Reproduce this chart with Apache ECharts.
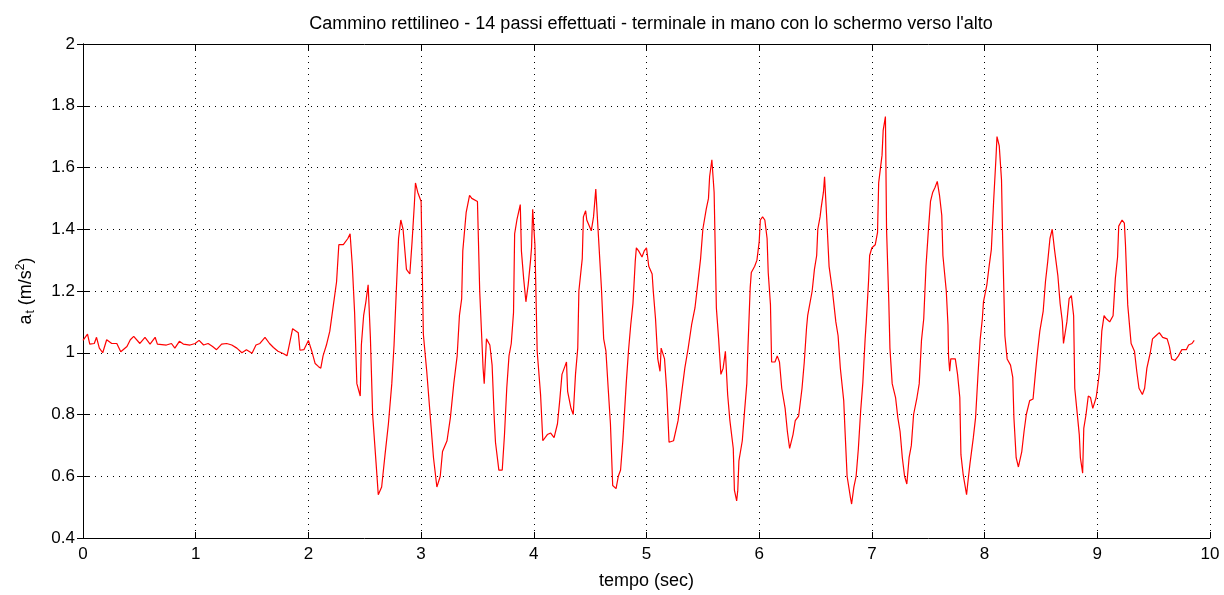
<!DOCTYPE html>
<html>
<head>
<meta charset="utf-8">
<script src="https://cdn.jsdelivr.net/npm/echarts@6/dist/echarts.min.js"></script>
<style>
  html, body { margin: 0; padding: 0; background: #fff; }
  #chart { width: 1224px; height: 595px; }
</style>
</head>
<body>
<div id="chart"></div>
<script>
// tempo (sec) of each sample
const tempo = [
  0.00, 0.04, 0.06, 0.10, 0.12, 0.145, 0.175, 0.21, 0.255, 0.30, 0.335, 0.39, 0.42, 0.45, 0.505, 0.55,
  0.595, 0.64, 0.66, 0.74, 0.785, 0.815, 0.855, 0.89, 0.95, 0.995, 1.03, 1.07, 1.11, 1.15, 1.185, 1.23,
  1.275, 1.32, 1.365, 1.41, 1.45, 1.50, 1.535, 1.57, 1.615, 1.655, 1.69, 1.73, 1.78, 1.81, 1.83, 1.86,
  1.91, 1.925, 1.96, 2.00, 2.03, 2.06, 2.09, 2.11, 2.13, 2.16, 2.19, 2.22, 2.25, 2.27, 2.31, 2.35,
  2.37, 2.39, 2.41, 2.43, 2.46, 2.47, 2.49, 2.51, 2.53, 2.55, 2.57, 2.60, 2.62, 2.65, 2.68, 2.71,
  2.74, 2.76, 2.78, 2.80, 2.82, 2.84, 2.87, 2.90, 2.92, 2.94, 2.95, 2.97, 3.00, 3.02, 3.05, 3.08,
  3.11, 3.14, 3.17, 3.19, 3.23, 3.26, 3.29, 3.32, 3.34, 3.36, 3.37, 3.40, 3.43, 3.45, 3.50, 3.52,
  3.55, 3.56, 3.58, 3.61, 3.63, 3.65, 3.66, 3.69, 3.72, 3.74, 3.76, 3.78, 3.80, 3.82, 3.83, 3.85,
  3.88, 3.89, 3.91, 3.93, 3.95, 3.97, 3.98, 3.99, 4.01, 4.03, 4.06, 4.08, 4.12, 4.15, 4.18, 4.21,
  4.23, 4.25, 4.28, 4.29, 4.30, 4.33, 4.35, 4.37, 4.39, 4.40, 4.43, 4.44, 4.46, 4.47, 4.51, 4.53,
  4.55, 4.57, 4.60, 4.62, 4.64, 4.66, 4.68, 4.70, 4.73, 4.75, 4.77, 4.79, 4.82, 4.84, 4.86, 4.88,
  4.90, 4.91, 4.93, 4.96, 4.98, 5.00, 5.02, 5.05, 5.06, 5.08, 5.10, 5.12, 5.13, 5.16, 5.18, 5.20,
  5.24, 5.28, 5.31, 5.34, 5.37, 5.40, 5.43, 5.46, 5.48, 5.50, 5.53, 5.55, 5.56, 5.58, 5.60, 5.62,
  5.64, 5.66, 5.68, 5.70, 5.72, 5.74, 5.77, 5.78, 5.80, 5.81, 5.82, 5.85, 5.87, 5.89, 5.90, 5.92,
  5.93, 5.96, 5.98, 6.00, 6.01, 6.03, 6.05, 6.07, 6.08, 6.10, 6.11, 6.14, 6.16, 6.18, 6.20, 6.23,
  6.25, 6.27, 6.30, 6.32, 6.35, 6.38, 6.40, 6.42, 6.43, 6.47, 6.49, 6.51, 6.52, 6.54, 6.55, 6.57,
  6.58, 6.60, 6.62, 6.65, 6.68, 6.70, 6.72, 6.75, 6.76, 6.78, 6.81, 6.82, 6.84, 6.86, 6.88, 6.90,
  6.92, 6.94, 6.95, 6.97, 6.98, 7.00, 7.03, 7.05, 7.06, 7.09, 7.10, 7.12, 7.13, 7.15, 7.16, 7.18,
  7.21, 7.23, 7.25, 7.27, 7.29, 7.31, 7.33, 7.35, 7.37, 7.40, 7.42, 7.44, 7.46, 7.48, 7.50, 7.52,
  7.54, 7.56, 7.58, 7.60, 7.62, 7.63, 7.66, 7.675, 7.68, 7.69, 7.70, 7.74, 7.76, 7.78, 7.79, 7.81,
  7.84, 7.85, 7.87, 7.90, 7.92, 7.94, 7.96, 7.98, 7.99, 8.02, 8.04, 8.06, 8.08, 8.10, 8.11, 8.13,
  8.15, 8.16, 8.18, 8.20, 8.23, 8.25, 8.26, 8.28, 8.30, 8.33, 8.35, 8.37, 8.40, 8.43, 8.45, 8.47,
  8.49, 8.52, 8.54, 8.56, 8.58, 8.60, 8.62, 8.65, 8.67, 8.69, 8.70, 8.73, 8.75, 8.77, 8.79, 8.80,
  8.82, 8.84, 8.85, 8.87, 8.88, 8.90, 8.92, 8.94, 8.96, 8.99, 9.01, 9.02, 9.04, 9.06, 9.08, 9.11,
  9.14, 9.16, 9.18, 9.19, 9.22, 9.24, 9.25, 9.27, 9.30, 9.33, 9.35, 9.37, 9.40, 9.42, 9.44, 9.47,
  9.49, 9.52, 9.55, 9.58, 9.62, 9.64, 9.66, 9.69, 9.72, 9.75, 9.79, 9.81, 9.84, 9.86
];

// a_t (m/s^2) at each sample
const accel = [
  1.04, 1.06, 1.028, 1.03, 1.05, 1.015, 1.00, 1.042, 1.03, 1.03, 1.003, 1.02, 1.042, 1.053, 1.03, 1.05,
  1.028, 1.05, 1.028, 1.025, 1.03, 1.015, 1.037, 1.028, 1.025, 1.03, 1.04, 1.025, 1.03, 1.02, 1.01, 1.028,
  1.03, 1.025, 1.015, 1.00, 1.01, 0.998, 1.025, 1.03, 1.05, 1.03, 1.017, 1.005, 0.997, 0.99, 1.025, 1.078,
  1.065, 1.008, 1.01, 1.04, 1.005, 0.965, 0.955, 0.95, 0.99, 1.025, 1.07, 1.15, 1.23, 1.35, 1.35, 1.37,
  1.385, 1.28, 1.13, 0.90, 0.86, 1.025, 1.12, 1.165, 1.22, 1.05, 0.80, 0.645, 0.54, 0.565, 0.67, 0.77,
  0.90, 1.025, 1.20, 1.37, 1.43, 1.40, 1.27, 1.255, 1.36, 1.48, 1.55, 1.52, 1.49, 1.06, 0.94, 0.80,
  0.66, 0.565, 0.60, 0.68, 0.715, 0.79, 0.90, 0.99, 1.12, 1.175, 1.33, 1.455, 1.51, 1.50, 1.49, 1.20,
  0.95, 0.90, 1.045, 1.025, 0.96, 0.78, 0.71, 0.62, 0.62, 0.735, 0.885, 0.99, 1.03, 1.13, 1.385, 1.43,
  1.48, 1.33, 1.24, 1.165, 1.22, 1.295, 1.34, 1.465, 1.35, 1.005, 0.865, 0.715, 0.735, 0.74, 0.725, 0.77,
  0.845, 0.93, 0.96, 0.97, 0.875, 0.82, 0.80, 0.93, 1.015, 1.20, 1.305, 1.44, 1.46, 1.43, 1.395, 1.44,
  1.53, 1.40, 1.21, 1.045, 1.005, 0.885, 0.77, 0.57, 0.56, 0.60, 0.62, 0.715, 0.90, 1.005, 1.09, 1.16,
  1.295, 1.34, 1.33, 1.31, 1.33, 1.34, 1.28, 1.255, 1.20, 1.11, 0.98, 0.94, 1.015, 0.98, 0.875, 0.71,
  0.715, 0.78, 0.865, 0.95, 1.015, 1.09, 1.145, 1.24, 1.305, 1.40, 1.465, 1.50, 1.57, 1.625, 1.52, 1.145,
  1.045, 0.93, 0.95, 1.005, 0.865, 0.78, 0.69, 0.555, 0.52, 0.555, 0.65, 0.715, 0.81, 0.90, 1.015, 1.21,
  1.26, 1.28, 1.30, 1.36, 1.43, 1.44, 1.43, 1.37, 1.26, 1.155, 0.97, 0.97, 0.99, 0.97, 0.885, 0.82,
  0.745, 0.69, 0.735, 0.78, 0.795, 0.885, 0.97, 1.08, 1.12, 1.20, 1.27, 1.315, 1.40, 1.44, 1.47, 1.52,
  1.57, 1.43, 1.28, 1.20, 1.10, 1.055, 0.95, 0.845, 0.76, 0.60, 0.53, 0.51, 0.565, 0.60, 0.69, 0.81,
  0.905, 1.045, 1.10, 1.23, 1.315, 1.34, 1.35, 1.39, 1.55, 1.64, 1.72, 1.765, 1.40, 1.165, 1.015, 0.90,
  0.855, 0.79, 0.745, 0.66, 0.60, 0.575, 0.66, 0.70, 0.80, 0.855, 0.90, 1.04, 1.11, 1.28, 1.39, 1.49,
  1.52, 1.535, 1.555, 1.51, 1.445, 1.315, 1.20, 1.09, 0.99, 0.94, 0.98, 0.98, 0.93, 0.855, 0.67, 0.605,
  0.54, 0.575, 0.64, 0.725, 0.79, 0.92, 1.04, 1.11, 1.165, 1.22, 1.28, 1.335, 1.49, 1.625, 1.70, 1.67,
  1.56, 1.37, 1.055, 0.98, 0.96, 0.92, 0.79, 0.66, 0.63, 0.68, 0.745, 0.80, 0.845, 0.85, 0.93, 1.005,
  1.07, 1.135, 1.23, 1.295, 1.37, 1.40, 1.335, 1.25, 1.16, 1.10, 1.03, 1.10, 1.175, 1.185, 1.12, 0.885,
  0.81, 0.735, 0.66, 0.61, 0.755, 0.80, 0.86, 0.855, 0.82, 0.855, 0.91, 0.94, 1.07, 1.12, 1.11, 1.10,
  1.12, 1.24, 1.31, 1.41, 1.43, 1.42, 1.35, 1.155, 1.03, 1.005, 0.94, 0.885, 0.865, 0.885, 0.95, 1.00,
  1.045, 1.055, 1.065, 1.05, 1.045, 1.02, 0.98, 0.975, 0.99, 1.01, 1.01, 1.025, 1.03, 1.04
];

const xTicks = [0, 1, 2, 3, 4, 5, 6, 7, 8, 9, 10];
const yTicks = [0.4, 0.6, 0.8, 1, 1.2, 1.4, 1.6, 1.8, 2];

const FONT = '"Liberation Sans", Arial, sans-serif';

const chart = echarts.init(document.getElementById('chart'), null, { renderer: 'canvas' });

const gridDots = { show: true, lineStyle: { color: '#000', width: 1, type: [1, 5] } };
const labelStyle = { color: '#000', fontFamily: FONT, fontSize: 17 };

chart.setOption({
  animation: false,
  backgroundColor: '#fff',
  // title centred over the plot box, as matlab does
  title: {
    text: "Cammino rettilineo - 14 passi effettuati - terminale in mano con lo schermo verso l'alto",
    left: 646,
    textAlign: 'center',
    top: 10,
    textStyle: { color: '#000', fontFamily: FONT, fontSize: 18, fontWeight: 'normal' }
  },
  grid: { left: 83, right: 14, top: 44, bottom: 54 },
  xAxis: [
    {
      type: 'value',
      min: 0, max: 10, interval: 1,
      name: 'tempo (sec)',
      nameLocation: 'middle',
      nameGap: 34,
      nameTextStyle: { color: '#000', fontFamily: FONT, fontSize: 18 },
      axisLine: { show: true, lineStyle: { color: '#000', width: 1 } },
      axisTick: { show: true, inside: true, length: 6, lineStyle: { color: '#000' } },
      axisLabel: Object.assign({
        margin: 8,
        formatter: v => (xTicks.indexOf(Math.round(v)) >= 0 ? String(Math.round(v)) : '')
      }, labelStyle),
      splitLine: gridDots
    },
    {
      type: 'value', position: 'top',
      min: 0, max: 10, interval: 1,
      axisLine: { show: true, lineStyle: { color: '#000', width: 1 } },
      axisTick: { show: true, inside: true, length: 6, lineStyle: { color: '#000' } },
      axisLabel: { show: false },
      splitLine: { show: false }
    }
  ],
  yAxis: [
    {
      type: 'value',
      min: 0.4, max: 2, interval: 0.2,
      name: '{a|a}{s|t}{a| (m/s}{p|2}{a|)}',
      nameLocation: 'middle',
      nameRotate: 90,
      nameGap: 46,
      nameTextStyle: {
        color: '#000', fontFamily: FONT, fontSize: 18,
        rich: {
          a: { fontFamily: FONT, fontSize: 18, color: '#000' },
          s: { fontFamily: FONT, fontSize: 12, color: '#000', verticalAlign: 'bottom', padding: [10, 0, 0, 1] },
          p: { fontFamily: FONT, fontSize: 12, color: '#000', verticalAlign: 'top', padding: [0, 0, 10, 0] }
        }
      },
      axisLine: { show: true, lineStyle: { color: '#000', width: 1 } },
      axisTick: { show: true, inside: true, length: 6, lineStyle: { color: '#000' } },
      axisLabel: Object.assign({
        margin: 8,
        formatter: v => {
          const r = Math.round(v * 10) / 10;
          return yTicks.indexOf(r) >= 0 ? String(r) : '';
        }
      }, labelStyle),
      splitLine: gridDots
    },
    {
      type: 'value', position: 'right',
      min: 0.4, max: 2, interval: 0.2,
      axisLine: { show: true, lineStyle: { color: '#000', width: 1 } },
      axisTick: { show: true, inside: true, length: 6, lineStyle: { color: '#000' } },
      axisLabel: { show: false },
      splitLine: { show: false }
    }
  ],
  series: [{
    type: 'line',
    xAxisIndex: 0,
    yAxisIndex: 0,
    data: tempo.map((t, i) => [t, accel[i]]),
    showSymbol: false,
    symbol: 'none',
    lineStyle: { color: '#ff0000', width: 1.2 },
    z: 5
  }]
});
</script>
</body>
</html>
